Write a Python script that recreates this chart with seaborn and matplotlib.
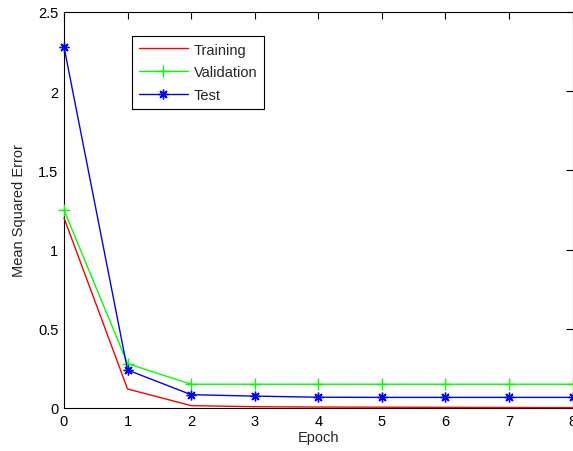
import matplotlib
matplotlib.use("Agg")
import matplotlib.pyplot as plt
import seaborn as sns
import pandas as pd

epochs = [0, 1, 2, 3, 4, 5, 6, 7, 8]
training = [1.20, 0.12, 0.015, 0.008, 0.006, 0.005, 0.004, 0.003, 0.002]
validation = [1.25, 0.28, 0.15, 0.15, 0.15, 0.15, 0.15, 0.15, 0.15]
test = [2.28, 0.24, 0.084, 0.075, 0.068, 0.067, 0.067, 0.067, 0.067]

sns.set_style("white")
plt.rcParams['font.family'] = ['Liberation Sans', 'DejaVu Sans']

fig = plt.figure(figsize=(5.73, 4.52), dpi=100)
ax = fig.add_axes([64/573, 43/452, 508.5/573, 396/452])

df = pd.DataFrame({"Epoch": epochs, "Training": training,
                   "Validation": validation, "Test": test})

sns.lineplot(data=df, x="Epoch", y="Training", ax=ax, color="#ff0000",
             lw=1, label="Training", clip_on=False, zorder=3)
sns.lineplot(data=df, x="Epoch", y="Validation", ax=ax, color="#00ff00",
             lw=1, marker="+", markersize=8, mew=1, mec="#00ff00",
             label="Validation", clip_on=False, zorder=3)
sns.lineplot(data=df, x="Epoch", y="Test", ax=ax, color="#0000ff",
             lw=1, marker=(8, 2, 0), markersize=7, mew=1, mec="#0000ff",
             label="Test", clip_on=False, zorder=3)

ax.set_xlim(0, 8)
ax.set_ylim(0, 2.5)
ax.set_xticks(epochs)
ax.set_yticks([0, 0.5, 1, 1.5, 2, 2.5])
ax.set_yticklabels(["0", "0.5", "1", "1.5", "2", "2.5"])
ax.tick_params(direction="in", length=5, width=0.8, top=True, right=True,
               labelsize=10.5, colors="black", pad=4)
for s in ax.spines.values():
    s.set_visible(True)
    s.set_color("black")
    s.set_linewidth(0.8)
    s.set_zorder(2)
ax.set_xlabel("Epoch", fontsize=10.5, labelpad=2)
ax.set_ylabel("Mean Squared Error", fontsize=10.5, labelpad=9)

leg = ax.legend(loc="upper left", bbox_to_anchor=(132/573, 1 - 37/452),
                bbox_transform=fig.transFigure, frameon=True, fancybox=False,
                fontsize=10.5, borderpad=0.45, labelspacing=0.6, handlelength=3.4,
                handletextpad=0.4, edgecolor="black", borderaxespad=0)
leg.get_frame().set_linewidth(0.8)
leg.get_frame().set_alpha(1)
leg.set_zorder(5)

fig.savefig("out.png", dpi=100, facecolor="white")
